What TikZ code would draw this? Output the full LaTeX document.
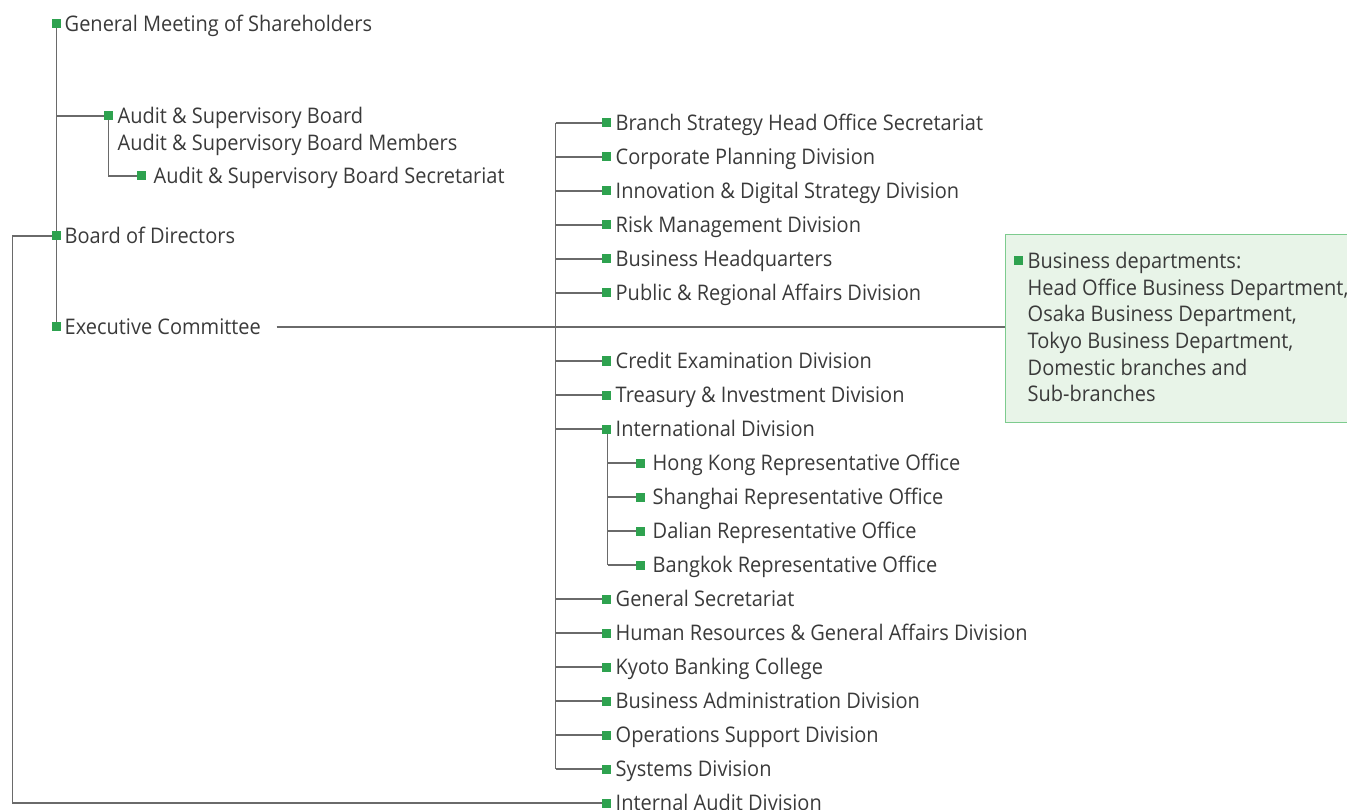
\documentclass[tikz,border=0pt]{standalone}
\usepackage{fontspec}
\setmainfont{Open Sans}[FakeStretch=0.93]
\definecolor{sqgreen}{HTML}{2EA24F}
\definecolor{txt}{HTML}{3A3A3A}
\definecolor{ln}{HTML}{6A6A6A}
\definecolor{boxfill}{HTML}{E8F4E8}
\definecolor{boxline}{HTML}{7DCB8E}
\newcommand{\mlines}[1]{\begin{tabular}[t]{@{}l@{}}#1\end{tabular}}
\begin{document}
\begin{tikzpicture}[x=1pt,y=-1pt,
  lbl/.style={anchor=base west,inner sep=0pt,text=txt,font=\fontsize{21.5}{26.6}\selectfont},
  sq/.style={fill=sqgreen,minimum size=9pt,inner sep=0pt,outer sep=0pt},
  conn/.style={draw=ln,line width=1.5pt}]
\useasboundingbox (0,0) rectangle (1347,810);
\begin{scope}[shift={(0.5,1)}]
\def\dy{7.8}
% coordinates of squares
\coordinate (gm) at (56,23);
\coordinate (asb) at (108,115);
\coordinate (asbs) at (141,175);
\coordinate (bod) at (56,235);
\coordinate (ec) at (56,326);
\coordinate (ia) at (606,802);
\coordinate (asbj) at (56,115);
\coordinate (asbc) at (108,175);
\coordinate (l1) at (12,235);
\coordinate (l2) at (12,802);
\coordinate (ecend) at (276,326);
\coordinate (tt) at (555,122);
\coordinate (tb) at (555,768);
\coordinate (it) at (607,428);
\coordinate (ib) at (607,564);
% box
\node[draw=boxline,fill=boxfill,line width=1.2pt,minimum width=350pt,minimum height=188pt,anchor=north west,inner sep=0pt] (box) at (1004,233) {};
% connectors
\draw[conn] (gm) -- (ec);
\draw[conn] (asbj) -- (asb) -- (asbc) -- (asbs);
\draw[conn] (bod) -- (l1) -- (l2) -- (ia);
\draw[conn] (ecend) -- (box.west |- ecend);
\draw[conn] (tt) -- (tb);
\draw[conn] (it) -- (ib);
\foreach \n/\y in {d1/122,d2/156,d3/190,d4/224,d5/258,d6/292,d7/360,d8/394,d9/428,d10/598,d11/632,d12/666,d13/700,d14/734,d15/768}{
  \coordinate (\n) at (606,\y);
  \coordinate (\n j) at (555,\y);
  \draw[conn] (\n j) -- (\n);
}
\foreach \n/\y in {r1/462,r2/496,r3/530,r4/564}{
  \coordinate (\n) at (640,\y);
  \coordinate (\n j) at (607,\y);
  \draw[conn] (\n j) -- (\n);
}
% squares
\foreach \c in {gm,asb,asbs,bod,ec,ia,d1,d2,d3,d4,d5,d6,d7,d8,d9,d10,d11,d12,d13,d14,d15,r1,r2,r3,r4}{
  \node[sq] (\c sq) at (\c) {};
}
\node[sq] (bdsq) at (1018,260) {};
% labels
\node[lbl] (tgm) at (64,23+\dy) {General Meeting of Shareholders};
\node[lbl] (tasb) at (117,115+\dy) {\mlines{Audit \& Supervisory Board\\Audit \& Supervisory Board Members}};
\node[lbl] (tasbs) at (153,175+\dy) {Audit \& Supervisory Board Secretariat};
\node[lbl] (tbod) at (64,235+\dy) {Board of Directors};
\node[lbl] (tec) at (64,326+\dy) {Executive Committee};
\node[lbl] (tia) at (615,802+\dy) {Internal Audit Division};
\foreach \n/\y/\t in {d1/122/Branch Strategy Head Office Secretariat,
  d2/156/Corporate Planning Division,
  d3/190/Innovation \& Digital Strategy Division,
  d4/224/Risk Management Division,
  d5/258/Business Headquarters,
  d6/292/Public \& Regional Affairs Division,
  d7/360/Credit Examination Division,
  d8/394/Treasury \& Investment Division,
  d9/428/International Division,
  d10/598/General Secretariat,
  d11/632/Human Resources \& General Affairs Division,
  d12/666/Kyoto Banking College,
  d13/700/Business Administration Division,
  d14/734/Operations Support Division,
  d15/768/Systems Division}{
  \node[lbl] (t\n) at (615,\y+\dy) {\t};
}
\foreach \n/\y/\t in {r1/462/Hong Kong Representative Office,
  r2/496/Shanghai Representative Office,
  r3/530/Dalian Representative Office,
  r4/564/Bangkok Representative Office}{
  \node[lbl] (t\n) at (652,\y+\dy) {\t};
}
\node[lbl] (tbd) at (1027,260+\dy) {\mlines{Business departments:\\Head Office Business Department,\\Osaka Business Department,\\Tokyo Business Department,\\Domestic branches and\\Sub-branches}};
\end{scope}
\end{tikzpicture}
\end{document}
